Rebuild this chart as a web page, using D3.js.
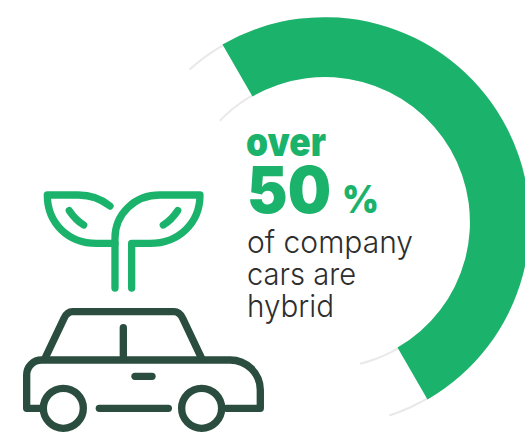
<!DOCTYPE html>
<html>
<head>
<meta charset="utf-8">
<title>Hybrid company cars</title>
<script src="https://d3js.org/d3.v7.min.js"></script>
<style>
    html, body { margin: 0; padding: 0; background: #fff; overflow: hidden; }
    .big { font-family: Inter, sans-serif; font-weight: 900; fill: #1bb36b; }
    .body { font-family: Inter, sans-serif; font-weight: 300; font-size: 31px; fill: #2e2e2e; }
</style>
</head>
<body>
<div id="chart"></div>
<script>
    // Data
    const shareValue = [50];
    const shareDomain = [0, 100];
    const startAngle = -30;       // where the green band starts, degrees
    const trackBefore = -41.6;    // grey track ends past the band, degrees
    const trackAfter = 161.6;
    const bigLabels = ["over", "50", "%"];
    const bodyLabels = ["of company", "cars are", "hybrid"];
    const bodyWidths = [166, 109, 87];

    const width = 525, height = 436;
    const cx = 325, cy = 222;
    const innerR = 145, outerR = 205;
    const green = "#1bb36b", dark = "#2a4d3f", grey = "#e9e9e9";

    const svg = d3.select("#chart").append("svg")
        .attr("width", width)
        .attr("height", height);

    const rad = d => d * Math.PI / 180;

    // percent to angle, full circle from the band's start
    const angle = d3.scaleLinear()
        .domain(shareDomain)
        .range([rad(startAngle), rad(startAngle + 360)]);

    const ring = svg.append("g").attr("transform", "translate(" + cx + "," + cy + ")");

    // Thin track lines on both edges of the band, tucked under it
    [innerR + 1, outerR - 1].forEach(function(r) {
        const a = r < 180 ? -4.5 : 0;
        ring.append("path")
            .attr("d", d3.arc()({
                innerRadius: r - 1,
                outerRadius: r + 1,
                startAngle: rad(trackBefore + a),
                endAngle: rad(trackAfter - a)
            }))
            .attr("fill", grey);
    });

    // Green band
    ring.append("path")
        .attr("d", d3.arc()({
            innerRadius: innerR,
            outerRadius: outerR,
            startAngle: angle(0),
            endAngle: angle(shareValue[0])
        }))
        .attr("fill", green);

    // Labels
    svg.append("text").attr("class", "big")
        .attr("x", 246).attr("y", 156)
        .attr("textLength", 80).attr("lengthAdjust", "spacingAndGlyphs")
        .style("font-size", "40px")
        .text(bigLabels[0]);
    svg.append("text").attr("class", "big")
        .attr("x", 247).attr("y", 213)
        .attr("textLength", 84).attr("lengthAdjust", "spacingAndGlyphs")
        .style("font-size", "64px")
        .text(bigLabels[1]);
    svg.append("text").attr("class", "big")
        .attr("x", 342).attr("y", 213)
        .attr("textLength", 37).attr("lengthAdjust", "spacingAndGlyphs")
        .style("font-size", "38px")
        .text(bigLabels[2]);

    svg.selectAll("text.body")
        .data(bodyLabels)
        .enter().append("text")
        .attr("class", "body")
        .attr("x", 247)
        .attr("y", (d, i) => 253 + i * 32)
        .attr("textLength", (d, i) => bodyWidths[i])
        .attr("lengthAdjust", "spacingAndGlyphs")
        .text(d => d);

    // Icon, drawn in a 3x grid
    const icon = svg.append("g")
        .attr("transform", "translate(0,170) scale(0.3333)")
        .attr("fill", "none")
        .attr("stroke-width", 22)
        .attr("stroke-linecap", "round")
        .attr("stroke-linejoin", "round");

    const plantPaths = [
        "M330,108 C305,88 275,75 235,75 L142,75 C142,160 205,220 290,220 L345,220",
        "M345,354 L345,205 C345,130 405,75 480,75 L600,75 C600,160 535,220 450,220 L395,220 L395,354",
        "M208,122 C220,140 235,155 251,165",
        "M533,122 C521,140 506,155 490,165"
    ];
    const carPaths = [
        "M125,715 L80,715 L80,615 C80,590 100,570 125,570 L690,570 C740,570 781,610 781,660 L781,715 L680,715",
        "M135,565 L192,445 C198,432 205,425 218,425 L522,425 C535,425 542,432 548,445 L605,565",
        "M370,473 L370,565",
        "M405,619 L456,619",
        "M298,715 L505,715"
    ];
    const wheels = [190, 605];

    icon.selectAll("path.plant")
        .data(plantPaths)
        .enter().append("path")
        .attr("class", "plant")
        .attr("d", d => d)
        .attr("stroke", green);

    icon.selectAll("path.car")
        .data(carPaths)
        .enter().append("path")
        .attr("class", "car")
        .attr("d", d => d)
        .attr("stroke", dark);

    icon.selectAll("circle")
        .data(wheels)
        .enter().append("circle")
        .attr("cx", d => d)
        .attr("cy", 715)
        .attr("r", 60)
        .attr("stroke", dark);
</script>
</body>
</html>
